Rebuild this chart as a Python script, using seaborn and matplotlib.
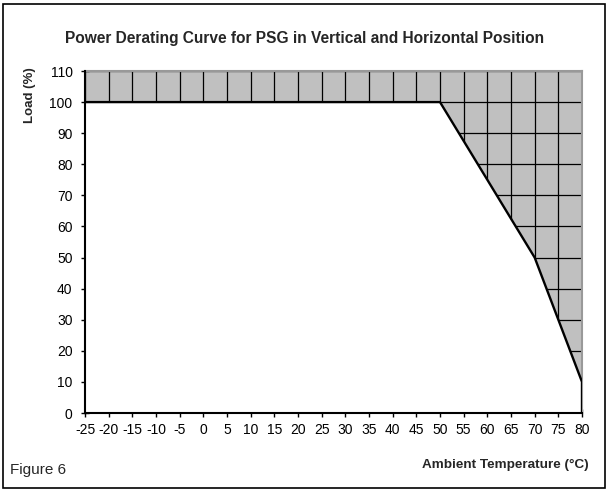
import matplotlib
matplotlib.use("Agg")
import matplotlib.pyplot as plt
import seaborn as sns
import pandas as pd
from matplotlib.patches import Rectangle

temps = [-25, 50, 70, 80, 80]
load = [100, 100, 50, 10, 0]
xticks = list(range(-25, 81, 5))
yticks = list(range(0, 111, 10))

sns.set_theme(style="white")
plt.rcParams['font.family'] = ['Liberation Sans', 'DejaVu Sans']

df = pd.DataFrame({"Temp": temps, "Load": load})

W, H = 609, 490
fig = plt.figure(figsize=(W / 100, H / 100), dpi=100)
L, R, T, B = 85, 582, 71, 413
ax = fig.add_axes([L / W, (H - B) / H, (R - L) / W, (B - T) / H])
ax.set_facecolor("#c0c0c0")

ax.set_xlim(-25, 80)
ax.set_ylim(0, 110)
ax.set_xticks(xticks)
ax.set_yticks(yticks)
ax.set_xticklabels([str(t) for t in xticks], fontsize=10)
ax.set_yticklabels([str(t) for t in yticks], fontsize=10)
ax.grid(True, color="black", linewidth=0.9, zorder=0.5)
ax.set_axisbelow(True)

ax.fill_between(df["Temp"], df["Load"], 0, color="white", zorder=1, linewidth=0)
sns.lineplot(data=df, x="Temp", y="Load", sort=False, estimator=None,
             color="black", linewidth=1.7, ax=ax, zorder=3)

for s in ["top", "right"]:
    ax.spines[s].set_color("#999999")
    ax.spines[s].set_linewidth(1.5)
for s in ["left", "bottom"]:
    ax.spines[s].set_color("black")
    ax.spines[s].set_linewidth(1.5)
    ax.spines[s].set_zorder(4)

ax.tick_params(axis="both", direction="inout", length=6, width=1, color="black",
               labelcolor="black", left=True, bottom=True)
ax.tick_params(axis="y", pad=6)
ax.tick_params(axis="x", pad=4)
ax.set_xlabel("")
ax.set_ylabel("")

fig.text(0.5, 1 - 38 / H, "Power Derating Curve for PSG in Vertical and Horizontal Position",
         ha="center", va="center", fontsize=11.2, fontweight="bold")
fig.text(30 / W, 1 - 67 / H, "Load (%)", rotation=90, ha="center", va="top",
         fontsize=9.5, fontweight="bold")
fig.text(589 / W, 1 - 465 / H, "Ambient Temperature (°C)", ha="right", va="center",
         fontsize=9.7, fontweight="bold")
fig.text(10 / W, 1 - 470 / H, "Figure 6", ha="left", va="center", fontsize=11)

fig.patches.append(Rectangle((3 / W, 2 / H), 602 / W, 484 / H, transform=fig.transFigure,
                             fill=False, edgecolor="black", linewidth=1.2))

fig.savefig("out.png", dpi=100)
